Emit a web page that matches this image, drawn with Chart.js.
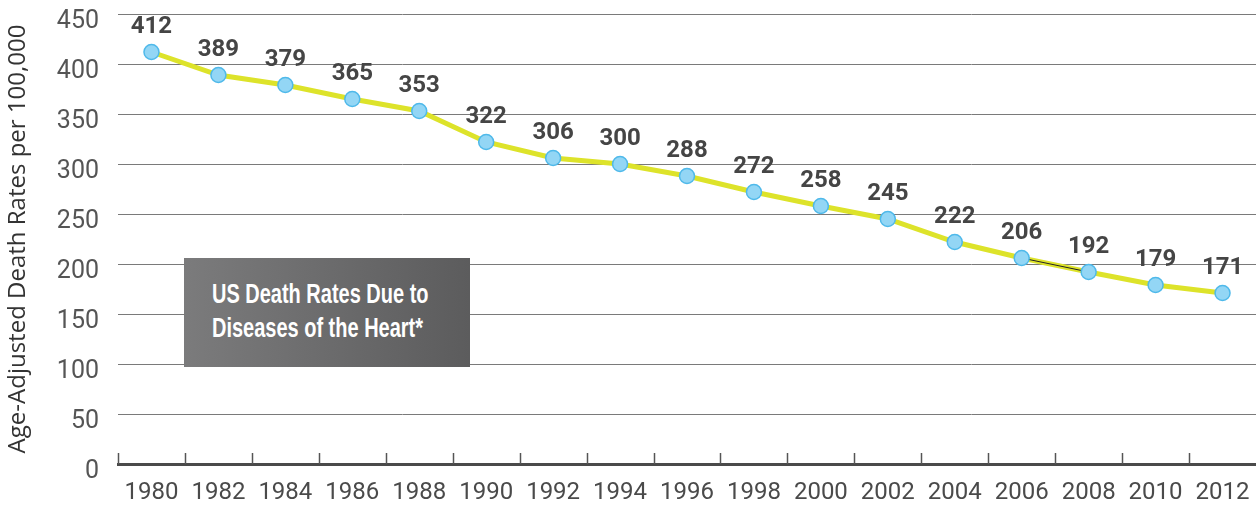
<!DOCTYPE html>
<html lang="en">
<head>
<meta charset="UTF-8">
<title>US Death Rates Due to Diseases of the Heart</title>
<script src="https://cdn.jsdelivr.net/npm/chart.js"></script>
<style>
html,body{margin:0;padding:0;background:#fff;overflow:hidden;}
.wrap{position:relative;width:1256px;height:508px;}
.note{
    position:absolute;
    left:184px;top:258px;
    width:286px;height:109px;
    background:linear-gradient(to right,#7b7b7c,#5c5c5d);
    color:#fff;
    font-family:"Liberation Sans Narrow",sans-serif;
    font-weight:bold;
    font-size:27px;
    line-height:34px;
    box-sizing:border-box;
    padding:19px 0 0 28px;
}
.note span{display:inline-block;transform:scaleX(0.74);transform-origin:left;white-space:nowrap;}
</style>
</head>
<body>
<div class="wrap">
<canvas id="heartChart" width="1256" height="508"></canvas>
<div class="note"><span>US Death Rates Due to</span><br><span>Diseases of the Heart*</span></div>
</div>

<script>
const years = ['1980','1982','1984','1986','1988','1990','1992','1994','1996','1998','2000','2002','2004','2006','2008','2010','2012'];
const rates = [412,389,379,365,353,322,306,300,288,272,258,245,222,206,192,179,171];
// thin dark stroke that sits on the 2006-2008 segment in the original
const strayLine = [null,null,null,null,null,null,null,null,null,null,null,null,null,206,192,null,null];
const yTicks = [0,50,100,150,200,250,300,350,400,450];

const valueLabels = {
    id:'valueLabels',
    afterDatasetsDraw(chart){
        const ctx = chart.ctx;
        const meta = chart.getDatasetMeta(0);
        ctx.save();
        ctx.font = 'bold 24px Roboto';
        ctx.fillStyle = '#454545';
        ctx.textAlign = 'center';
        ctx.textBaseline = 'middle';
        meta.data.forEach((pt,i)=>{
            ctx.fillText(rates[i], pt.x, pt.y - 25);
        });
        ctx.restore();
    }
};

const innerTicks = {
    id:'innerTicks',
    afterDraw(chart){
        const x = chart.scales.x;
        const ctx = chart.ctx;
        const half = (x.getPixelForValue(1) - x.getPixelForValue(0)) / 2;
        const bottom = chart.chartArea.bottom;
        ctx.save();
        ctx.strokeStyle = '#555';
        ctx.lineWidth = 1.5;
        years.forEach((y,i)=>{
            const px = Math.round(x.getPixelForValue(i) - half) + 0.5;
            ctx.beginPath();
            ctx.moveTo(px, bottom - 11);
            ctx.lineTo(px, bottom);
            ctx.stroke();
        });
        ctx.restore();
    }
};

new Chart(document.getElementById('heartChart'),{
    type:'line',
    data:{
        labels:years,
        datasets:[
            {
                data:rates,
                showLine:false,
                pointRadius:7.5,
                pointHoverRadius:7.5,
                pointBackgroundColor:'#93d6f5',
                pointBorderColor:'#4fb9ea',
                pointBorderWidth:1.5,
                order:0
            },
            {
                data:strayLine,
                borderColor:'#222',
                borderWidth:1,
                pointRadius:0,
                spanGaps:false,
                order:1
            },
            {
                data:rates,
                borderColor:'#dde32a',
                borderWidth:5,
                pointRadius:0,
                tension:0,
                order:2
            }
        ]
    },
    options:{
        responsive:false,
        animation:false,
        layout:{autoPadding:false,padding:{left:0,right:0,top:14,bottom:0}},
        plugins:{legend:{display:false},tooltip:{enabled:false}},
        scales:{
            x:{
                offset:true,
                grid:{display:false,drawTicks:false,offset:true},
                border:{display:true,color:'#4a4a4a',width:3},
                afterFit(scale){
                    scale.height = 44;
                    scale.paddingLeft = 0;
                    scale.paddingRight = 0;
                },
                ticks:{
                    color:'#4a4a4a',
                    font:{family:'Roboto',size:24},
                    padding:15,
                    maxRotation:0,
                    autoSkip:false
                }
            },
            y:{
                min:0,
                max:450,
                afterBuildTicks(scale){
                    scale.ticks = yTicks.map(v=>({value:v}));
                },
                afterFit(scale){
                    scale.width = 118;
                    scale.paddingTop = 0;
                    scale.paddingBottom = 0;
                },
                grid:{color:'#7a7a7a',lineWidth:1,drawTicks:false},
                border:{display:false},
                ticks:{
                    color:'#555',
                    font:{family:'Roboto',size:25},
                    padding:19,
                    labelOffset:8
                },
                title:{
                    display:true,
                    text:'Age-Adjusted Death Rates per 100,000',
                    color:'#333',
                    font:{family:'Open Sans',size:24},
                    padding:{top:4,bottom:22}
                }
            }
        }
    },
    plugins:[valueLabels,innerTicks]
});
</script>
</body>
</html>
